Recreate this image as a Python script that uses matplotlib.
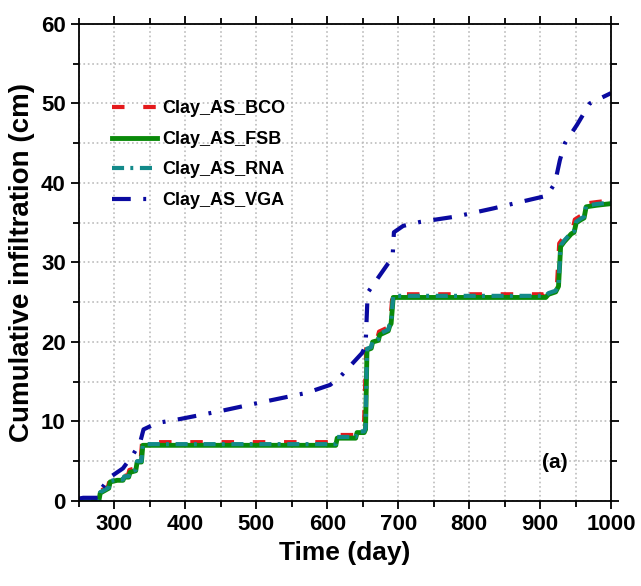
import matplotlib
matplotlib.use('Agg')
from matplotlib import pyplot as plt
from matplotlib.ticker import MultipleLocator

# data (day, cumulative infiltration in cm)
fsb_day = [250, 278, 280, 292, 294, 304, 312, 314, 320, 322, 330, 332, 338, 340, 612, 614, 640, 642, 652, 654,
           656, 662, 664, 672, 674, 686, 688, 690, 693, 908, 912, 922, 926, 929, 934, 940, 944, 948, 951, 958,
           962, 965, 980, 1000]
fsb_inf = [0, 0, 1.0, 1.6, 2.4, 2.6, 2.6, 3.0, 3.0, 3.6, 3.8, 4.9, 4.9, 7.0, 7.0, 7.9, 7.9, 8.6, 8.6, 9.0,
           19.0, 19.2, 20.0, 20.2, 20.9, 21.4, 22.0, 22.3, 25.6, 25.6, 26.0, 26.3, 27.0, 32.0, 32.6, 33.2, 33.6, 33.8, 35.0, 35.4,
           35.6, 37.0, 37.2, 37.4]

bco_day = [250, 277, 279, 291, 293, 303, 311, 313, 319, 321, 329, 331, 337, 339, 610, 612, 638, 640, 648, 652,
           655, 661, 663, 671, 673, 685, 687, 689, 692, 906, 910, 920, 924, 927, 932, 938, 942, 946, 949, 956,
           960, 963, 980, 1000]
bco_inf = [0, 0, 1.2, 1.8, 2.6, 2.8, 2.8, 3.2, 3.2, 3.9, 4.1, 5.2, 5.2, 7.4, 7.4, 8.3, 8.3, 9.0, 9.2, 10.0,
           19.4, 19.6, 20.4, 20.6, 21.3, 21.8, 22.4, 22.7, 26.0, 26.0, 26.4, 26.7, 27.4, 32.4, 33.0, 33.6, 34.0, 34.2, 35.4, 35.8,
           36.0, 37.4, 37.6, 37.8]

rna_day = fsb_day
rna_inf = [0, 0, 1.1, 1.7, 2.5, 2.7, 2.7, 3.1, 3.1, 3.7, 3.9, 5.0, 5.0, 7.15, 7.15, 8.05, 8.05, 8.75, 8.75, 9.15,
           19.15, 19.35, 20.15, 20.35, 21.05, 21.55, 22.15, 22.45, 25.8, 25.8, 26.15, 26.45, 27.15, 32.15, 32.75, 33.35, 33.75, 33.95, 35.15, 35.55,
           35.75, 37.15, 37.35, 37.55]

vga_day = [250, 256, 278, 282, 294, 312, 326, 336, 341, 360, 392, 449, 501, 571, 604, 618, 649, 654, 657, 686,
           692, 694, 707, 731, 783, 834, 886, 910, 921, 928, 935, 952, 970, 1000]
vga_inf = [0.3, 0.4, 0.4, 1.6, 3.0, 4.1, 5.8, 7.3, 9.0, 9.8, 10.3, 11.3, 12.3, 13.6, 14.6, 15.6, 18.6, 19.5, 26.2, 29.9,
           30.5, 33.8, 34.6, 35.1, 35.8, 36.8, 37.9, 38.4, 40.0, 42.9, 45.0, 47.3, 50.0, 51.3]

plt.rcParams['font.family'] = ['Liberation Sans Narrow', 'Liberation Sans', 'DejaVu Sans']
plt.rcParams['font.weight'] = 'bold'
plt.rcParams['axes.labelweight'] = 'bold'

fig = plt.figure(figsize=(6.41, 5.86), dpi=100)
ax = fig.add_axes([0.1232, 0.1451, 0.830, 0.8140])

lw = 3
ax.plot(bco_day, bco_inf, color='#e41a1c', lw=lw, dashes=(3, 4.5), label='Clay_AS_BCO')
ax.plot(fsb_day, fsb_inf, color='#0a8a0a', lw=3.5, label='Clay_AS_FSB')
ax.plot(rna_day, rna_inf, color='#138a8a', lw=lw, dashes=(2.9, 1.5, 0.7, 1.6), label='Clay_AS_RNA')
ax.plot(vga_day, vga_inf, color='#0a0aa0', lw=lw, dashes=(4.5, 3, 0.7, 3), label='Clay_AS_VGA')

ax.set_xlim(250, 1000)
ax.set_ylim(0, 60)
ax.xaxis.set_major_locator(MultipleLocator(100))
ax.xaxis.set_minor_locator(MultipleLocator(50))
ax.yaxis.set_major_locator(MultipleLocator(10))
ax.yaxis.set_minor_locator(MultipleLocator(5))
ax.tick_params(which='both', direction='out', top=True, right=True, width=1.3, labelsize=16)
ax.tick_params(which='major', length=6)
ax.tick_params(which='minor', length=4)
for sp in ax.spines.values():
    sp.set_linewidth(1.3)
ax.grid(which='both', linestyle=':', color='#bcbcbc', lw=1.2)
ax.set_axisbelow(True)

ax.set_xlabel('Time (day)', fontsize=19, labelpad=4)
ax.set_ylabel('Cumulative infiltration (cm)', fontsize=20, labelpad=4)
ax.text(921, 4.8, '(a)', fontsize=15, fontweight='bold', ha='center', va='center')

ax.legend(loc='upper left', bbox_to_anchor=(0.062, 0.84), frameon=False, fontsize=13,
          handlelength=2.5, handletextpad=0.3, labelspacing=0.75, borderpad=0, borderaxespad=0)

plt.savefig('out.png', dpi=100)
